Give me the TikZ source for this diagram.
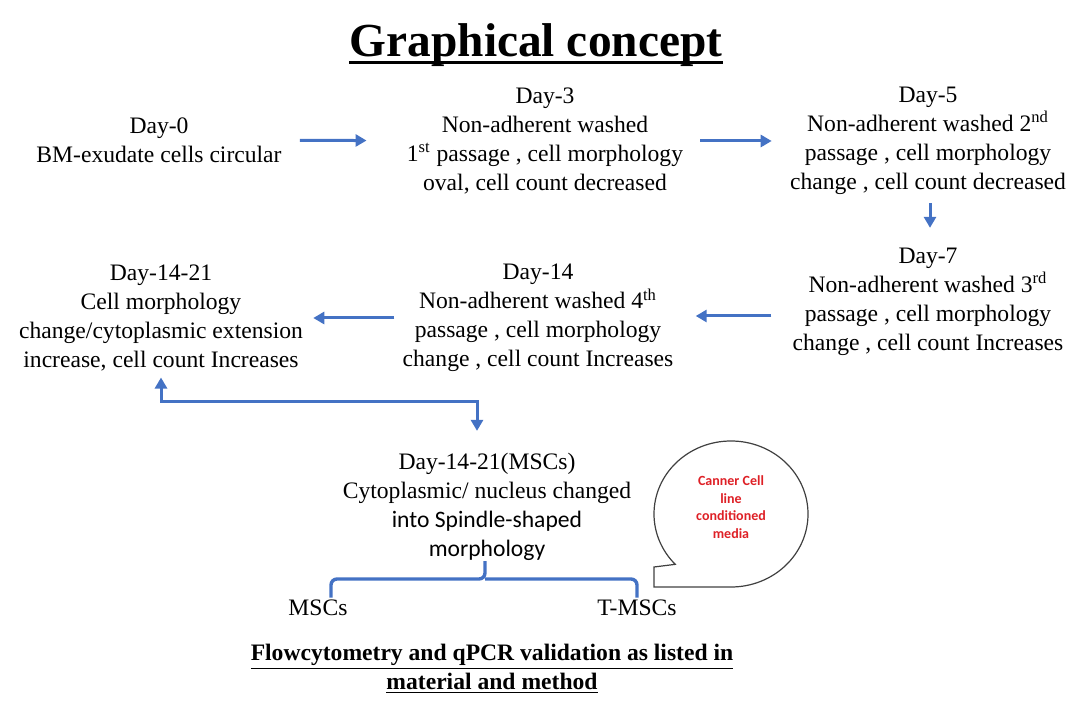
\documentclass[tikz,border=0pt]{standalone}
\usepackage{fontspec}
\setmainfont{Liberation Serif}
\newfontfamily\calibri{Carlito}
\usetikzlibrary{arrows.meta}
\definecolor{flowblue}{RGB}{68,114,196}
\definecolor{notered}{RGB}{222,32,38}

\begin{document}
\begin{tikzpicture}[x=0.5pt,y=-0.5pt,
    stage/.style={align=center, inner sep=0pt, font=\fontsize{11.8}{14.5}\selectfont},
    flow/.style={draw=flowblue, line width=1.5pt, -{Triangle[length=5.5pt,width=6pt]}},
    brace/.style={draw=flowblue, line width=1.7pt, rounded corners=3pt}]
			\useasboundingbox (0,0) rectangle (1091,710);
			\node[inner sep=0pt, font=\fontsize{23.7}{28}\selectfont\bfseries] (title) at (536,45) {Graphical concept};
			\draw[line width=1.3pt] ([yshift=-3pt]title.base west) -- ([yshift=-3pt]title.base east);
			\node[stage] (day0) at (159,140) {Day-0\\BM-exudate cells circular};
			\node[stage] (day3) at (545,141) {Day-3\\Non-adherent washed\\1\textsuperscript{st} passage , cell morphology\\oval, cell count decreased};
			\node[stage] (day5) at (928,141) {Day-5\\Non-adherent washed 2\textsuperscript{nd}\\passage , cell morphology\\change , cell count decreased};
			\node[stage] (day7) at (928,302) {Day-7\\Non-adherent washed 3\textsuperscript{rd}\\passage , cell morphology\\change , cell count Increases};
			\node[stage] (day14) at (538,318) {Day-14\\Non-adherent washed 4\textsuperscript{th}\\passage , cell morphology\\change , cell count Increases};
			\node[stage] (day1421) at (161,318) {Day-14-21\\Cell morphology\\change/cytoplasmic extension\\increase, cell count Increases};
			\node[stage] (msc) at (487,507) {Day-14-21(MSCs)\\Cytoplasmic/ nucleus changed\\{\calibri\fontsize{11.8}{14.5}\selectfont into Spindle-shaped}\\{\calibri\fontsize{11.8}{14.5}\selectfont morphology}};
			\node[stage] (mscs) at (318,608) {MSCs};
			\node[stage] (tmscs) at (637,608) {T-MSCs};
			\node[stage, font=\fontsize{11.8}{14.5}\selectfont\bfseries] (valid) at (492,669) {\underline{Flowcytometry and qPCR validation as listed in}\\\underline{material and method}};
			\coordinate (split) at (477,402);
			\coordinate (bar) at (485,579);
			\draw[flow, shorten <=9pt, shorten >=20pt] (day0) -- (day3);
			\draw[flow, shorten <=8.5pt, shorten >=9pt] (day3) -- (day5);
			\draw[flow, shorten <=4pt, shorten >=10pt] ([xshift=1pt]day5.south) -- ([xshift=1pt]day7.north);
			\draw[flow, shorten <=10.5pt, shorten >=11pt] ([yshift=-7pt]day7.west) -- ([yshift=-7pt]day7.west -| day14.east);
			\draw[flow, shorten <=4pt, shorten >=5pt] (day14.west) -- (day1421.east);
			\draw[flow, {Triangle[length=5.5pt,width=6pt]}-{Triangle[length=5.5pt,width=6pt]}, shorten <=3pt, shorten >=11pt] (day1421.south) |- (split) -- (split |- msc.north);
			\draw[brace] (msc.south -| bar) -- (bar) -| ([xshift=6.5pt, yshift=1pt]mscs.north);
			\draw[brace] (bar) -| ([yshift=1pt]tmscs.north);
			\draw[line width=0.6pt, draw=black!75] (654,567) -- (654,587) -- (731,587)
			  arc[start angle=90, end angle=-223.6, x radius=77, y radius=73] -- cycle;
			\node[align=center, inner sep=0pt, text=notered, font=\calibri\bfseries\fontsize{7}{8.8}\selectfont] (media) at (731,507) {Canner Cell\\line\\conditioned\\media};
		\end{tikzpicture}
\end{document}
